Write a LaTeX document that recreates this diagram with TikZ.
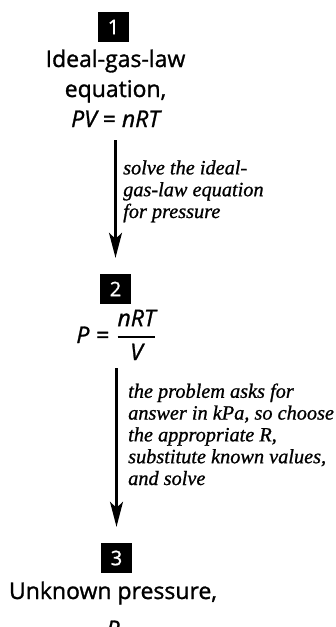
\documentclass[tikz,border=0pt]{standalone}
\usepackage{amsmath}
\usepackage{fontspec}
\newfontfamily\headfont[FakeBold=1.2]{Open Sans}
\newfontfamily\notefont[FakeBold=0.9]{Liberation Serif}
\usetikzlibrary{arrows.meta}

\tikzset{
  numbox/.style={fill=black, text=white, minimum width=31pt, minimum height=30pt,
    inner sep=0pt, font=\headfont\fontsize{20}{20}\selectfont},
  head/.style={align=center, inner sep=0pt, anchor=base,
    font=\headfont\fontsize{23}{30}\selectfont},
  note/.style={align=left, inner sep=0pt, anchor=base west,
    font=\notefont\itshape\fontsize{20.3}{21.8}\selectfont},
  flow/.style={line width=2.2pt, -{Stealth[length=25pt,width=13pt,inset=6pt]}}
}

\begin{document}
\begin{tikzpicture}[x=1pt,y=-1pt]
\useasboundingbox (0,0) rectangle (335,627);

% step 1
\node[numbox] (n1) at (113.5,27) {1};
\node[head] (t1) at (115.5,127) {Ideal-gas-law\\equation,\\{\itshape PV} = {\itshape nRT}};

% step 2
\node[numbox] (n2) at (115.5,289) {2};
\node[head] (t2) at (116.5,343) {$\text{\itshape P}\mathrel{\text{=}}
  \genfrac{}{}{1.6pt}{0}{\text{\itshape nRT}}{\text{\itshape V}}$};

% step 3
\node[numbox] (n3) at (116.5,558) {3};
\node[head] (t3) at (113,637) {Unknown pressure,\\[8pt]{\itshape P}};

% arrows and what they say
\draw[flow, shorten <=13pt, shorten >=16pt] (t1.south) -- (n2.north);
\node[note] (c1) at (123,218) {solve the ideal-\\gas-law equation\\for pressure};

\draw[flow, shorten <=8pt, shorten >=16pt] (t2.south) -- (n3.north);
\node[note] (c2) at (128,485) {the problem asks for\\answer in kPa, so choose\\the appropriate \textit{R},\\substitute known values,\\and solve};
\end{tikzpicture}
\end{document}
